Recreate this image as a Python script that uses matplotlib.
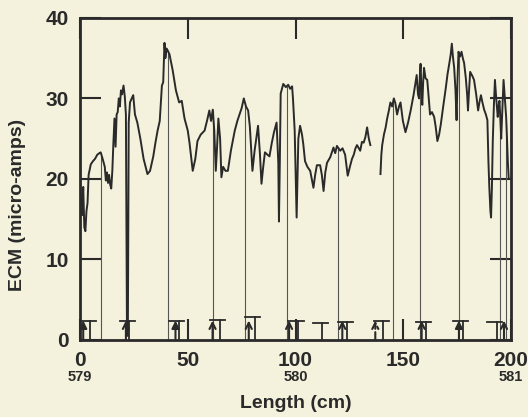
import numpy as np
import matplotlib.pyplot as plt

plt.rcParams['font.family'] = ['Liberation Sans', 'DejaVu Sans']

# ECM trace, first section (cm, micro-amps)
x1 = [0, 0.5, 1, 1.5, 2, 2.5, 3, 3.5, 4, 5, 6, 7, 8, 9, 9.6, 10.5, 11.5, 12, 12.5, 13,
      13.5, 14, 14.5, 15, 15.5, 16, 16.5, 17, 17.5, 18, 18.5, 19, 19.5, 20.2, 20.8, 21.3,
      21.8, 22.2, 22.6, 23.2, 24, 24.7, 25.5, 26.6, 28, 29.5, 31.3, 32.5, 34, 35, 36, 37,
      38, 38.6, 39.2, 39.6, 40.2, 41.5, 43, 44.5, 46, 47.2, 48.5, 50, 50.8, 52.3, 53.5,
      54.5, 56, 57.8, 59, 60, 60.8, 61.6, 62.3, 63, 63.6, 64.2, 65, 65.6, 66.4, 67.5, 68.6,
      70, 71.8, 73, 74, 75, 76, 77, 78, 78.8, 80, 81, 82.6, 83.5, 84.2, 85, 85.8, 87, 87.9,
      89, 90, 91.2, 92, 92.3, 92.7, 93.1, 94.3, 95.5, 96.6, 97.5, 98.4, 98.8, 99.6, 100.5,
      101.3, 102.1, 103, 103.6, 104.4, 105.5, 106.8, 107.5, 108.3, 109.1, 109.9, 111.4,
      112.2, 113, 113.8, 114.6, 116.1, 117.6, 118.4, 119.2, 120.7, 121.8, 123, 123.7,
      124.2, 125.4, 126.2, 127, 127.8, 128.5, 130, 130.8, 131.6, 132.4, 133.2, 134, 134.7]
y1 = [20, 17, 15.5, 19, 14, 13.5, 16, 17, 20.5, 21.8, 22.2, 22.5, 23, 23.2, 23.3, 22.5,
      21.5, 19.8, 20.8, 19.5, 20.5, 19.3, 18.8, 21, 24.5, 27.5, 24, 28, 28.3, 30, 29, 31,
      30.5, 31.6, 30.2, 28, 0.5, 0.5, 27, 29.5, 30, 30.4, 28, 27, 25, 22.5, 20.6, 21, 22.8,
      24.5, 26, 27.2, 31.6, 32, 36.9, 35, 36.2, 35.5, 33.5, 31, 29.5, 29.7, 27.5, 26, 24.5,
      21, 22.5, 24.7, 25.5, 26, 27.3, 28.5, 27.2, 28.6, 26, 21, 24, 27.5, 25, 20.2, 21.5,
      21, 21, 23.5, 26, 27.2, 28, 28.8, 30, 29, 28.5, 26.5, 21, 23.5, 26.6, 23, 19.4, 21.5,
      23.3, 23, 22.8, 24.5, 25.8, 27, 22, 14.7, 22, 30.6, 31.8, 31.4, 31.7, 31.2, 31.5, 30,
      26, 15.2, 25, 26.6, 25.5, 24.3, 22.2, 21.5, 21, 20, 18.9, 20.5, 21.7, 21.7, 20.5,
      18.5, 20.8, 22, 22.7, 23.9, 23.2, 24.1, 23.5, 23.8, 23, 21.5, 20.4, 21.7, 22.5, 23,
      23.8, 24.2, 23.5, 24.6, 24.5, 25.2, 26.4, 25, 24.2]

# ECM trace, second section
x2 = [139.4, 139.8, 140.2, 141, 141.8, 142.5, 143.3, 144, 144.8, 145.6, 146.3, 147.1, 148,
      148.7, 149.8, 151, 152.2, 153.4, 154.8, 156.2, 156.8, 157.3, 157.7, 158, 158.4, 158.8,
      159.2, 159.6, 160.3, 161.1, 161.8, 162.4, 163.3, 164.3, 165, 165.8, 166.6, 167.4,
      168.5, 169.7, 170.5, 171.3, 172, 172.5, 173, 173.6, 174.2, 174.7, 175.1, 175.6, 176.3,
      177, 177.6, 178.2, 179, 179.6, 180, 180.5, 181, 182, 182.8, 183.8, 184.7, 185.3, 186,
      186.7, 187.5, 188.3, 189, 189.5, 189.9, 190.4, 190.7, 191.1, 191.5, 192, 192.5, 193.1,
      193.8, 194.2, 194.6, 195, 195.4, 196, 196.5, 197.1, 197.7, 198.1, 198.5, 198.9]
y2 = [20.6, 23, 24.2, 25.5, 26.4, 27.5, 28.5, 29.5, 29, 30, 29.4, 28, 29, 29.5, 27.2, 25.8,
      27, 28.5, 30.5, 32.9, 30.5, 30, 33, 34.3, 31, 29.2, 32, 33.8, 32.5, 32.3, 30, 28, 28.3,
      27.7, 26.5, 24.7, 25.5, 26.8, 29, 31.3, 33, 34.3, 35.5, 36.8, 35.2, 33.8, 31, 27.3, 32,
      35.8, 35.2, 35.8, 35, 34.4, 32.5, 30.5, 28.5, 31, 33.3, 32.8, 32.3, 30.5, 28.5, 29.5,
      30.4, 29.5, 28.6, 28, 27.3, 22, 18.9, 16, 15.2, 19, 24.7, 29, 32.3, 30, 27.7, 29, 29.7,
      27.5, 25, 29, 32.3, 30, 27.7, 25, 22, 20]

# thin marker lines up to the trace
line_x = [9.8, 40.6, 61.5, 76.5, 96, 119.8, 145, 157.6, 175.8, 194.9, 197.7]
line_top = [23, 36, 28.5, 29.5, 31.5, 24, 29.7, 33, 35.5, 28, 27]

# T symbols at the base
t_x = [3.7, 21.9, 44.8, 63.9, 80.2, 100.2, 111.4, 123, 139.8, 159.4, 176.7, 192.5]
t_h = [2.4, 2.4, 2.4, 2.5, 2.8, 2.4, 2.1, 2.2, 2.3, 2.2, 2.4, 2.2]

# arrows at the base
arrow_x = [1.5, 21.3, 44.3, 61.5, 78.3, 97, 121.7, 137, 158.5, 175.8, 196.7]
arrow_kind = ['fill', 'open', 'fill', 'open', 'open', 'open', 'open', 'dash', 'open', 'fill', 'open']

paper = '#f4f2dc'
ink = '#2a2a2a'

fig = plt.figure(figsize=(5.28, 4.17), dpi=100, facecolor=paper)
ax = fig.add_axes([0.1515, 0.185, 0.8165, 0.772], facecolor=paper)

ax.vlines(line_x, 0, line_top, color='#555555', lw=0.8)
ax.plot(x1, y1, color=ink, lw=1.4)
ax.plot(x2, y2, color=ink, lw=1.4)

for x, h in zip(t_x, t_h):
    ax.plot([x - 3.5, x + 3.5], [h, h], color=ink, lw=1.3)
    ax.plot([x + 1, x + 1], [0, h], color=ink, lw=1.3)

for x, k in zip(arrow_x, arrow_kind):
    style = '-|>' if k == 'fill' else '->'
    ls = '--' if k == 'dash' else '-'
    ax.annotate('', xy=(x, 2.4), xytext=(x, 0),
                arrowprops=dict(arrowstyle=style, color=ink, lw=1.5, ls=ls,
                                mutation_scale=11, shrinkA=0, shrinkB=0))

ax.set_xlim(0, 200)
ax.set_ylim(0, 40)
ax.set_xticks([0, 50, 100, 150, 200])
ax.set_yticks([0, 10, 20, 30, 40])
ax.tick_params(direction='in', length=15, width=1.5, top=True, right=True,
               labelsize=15, pad=8, colors=ink)
for lab in ax.get_xticklabels() + ax.get_yticklabels():
    lab.set_fontweight('bold')
for s in ax.spines.values():
    s.set_linewidth(2)
    s.set_color(ink)

ax.set_xlabel('Length (cm)', fontsize=14, fontweight='bold', color=ink)
ax.set_ylabel('ECM (micro-amps)', fontsize=14, fontweight='bold', color=ink)
ax.xaxis.set_label_coords(0.5, -0.17)
ax.yaxis.set_label_coords(-0.125, 0.42)

for x, lab in zip([0, 100, 200], ['579', '580', '581']):
    ax.text(x, -0.115, lab, transform=ax.get_xaxis_transform(), ha='center',
            va='center', fontsize=10.5, fontweight='bold', color=ink)

fig.savefig('out.png', dpi=100, facecolor=paper)
